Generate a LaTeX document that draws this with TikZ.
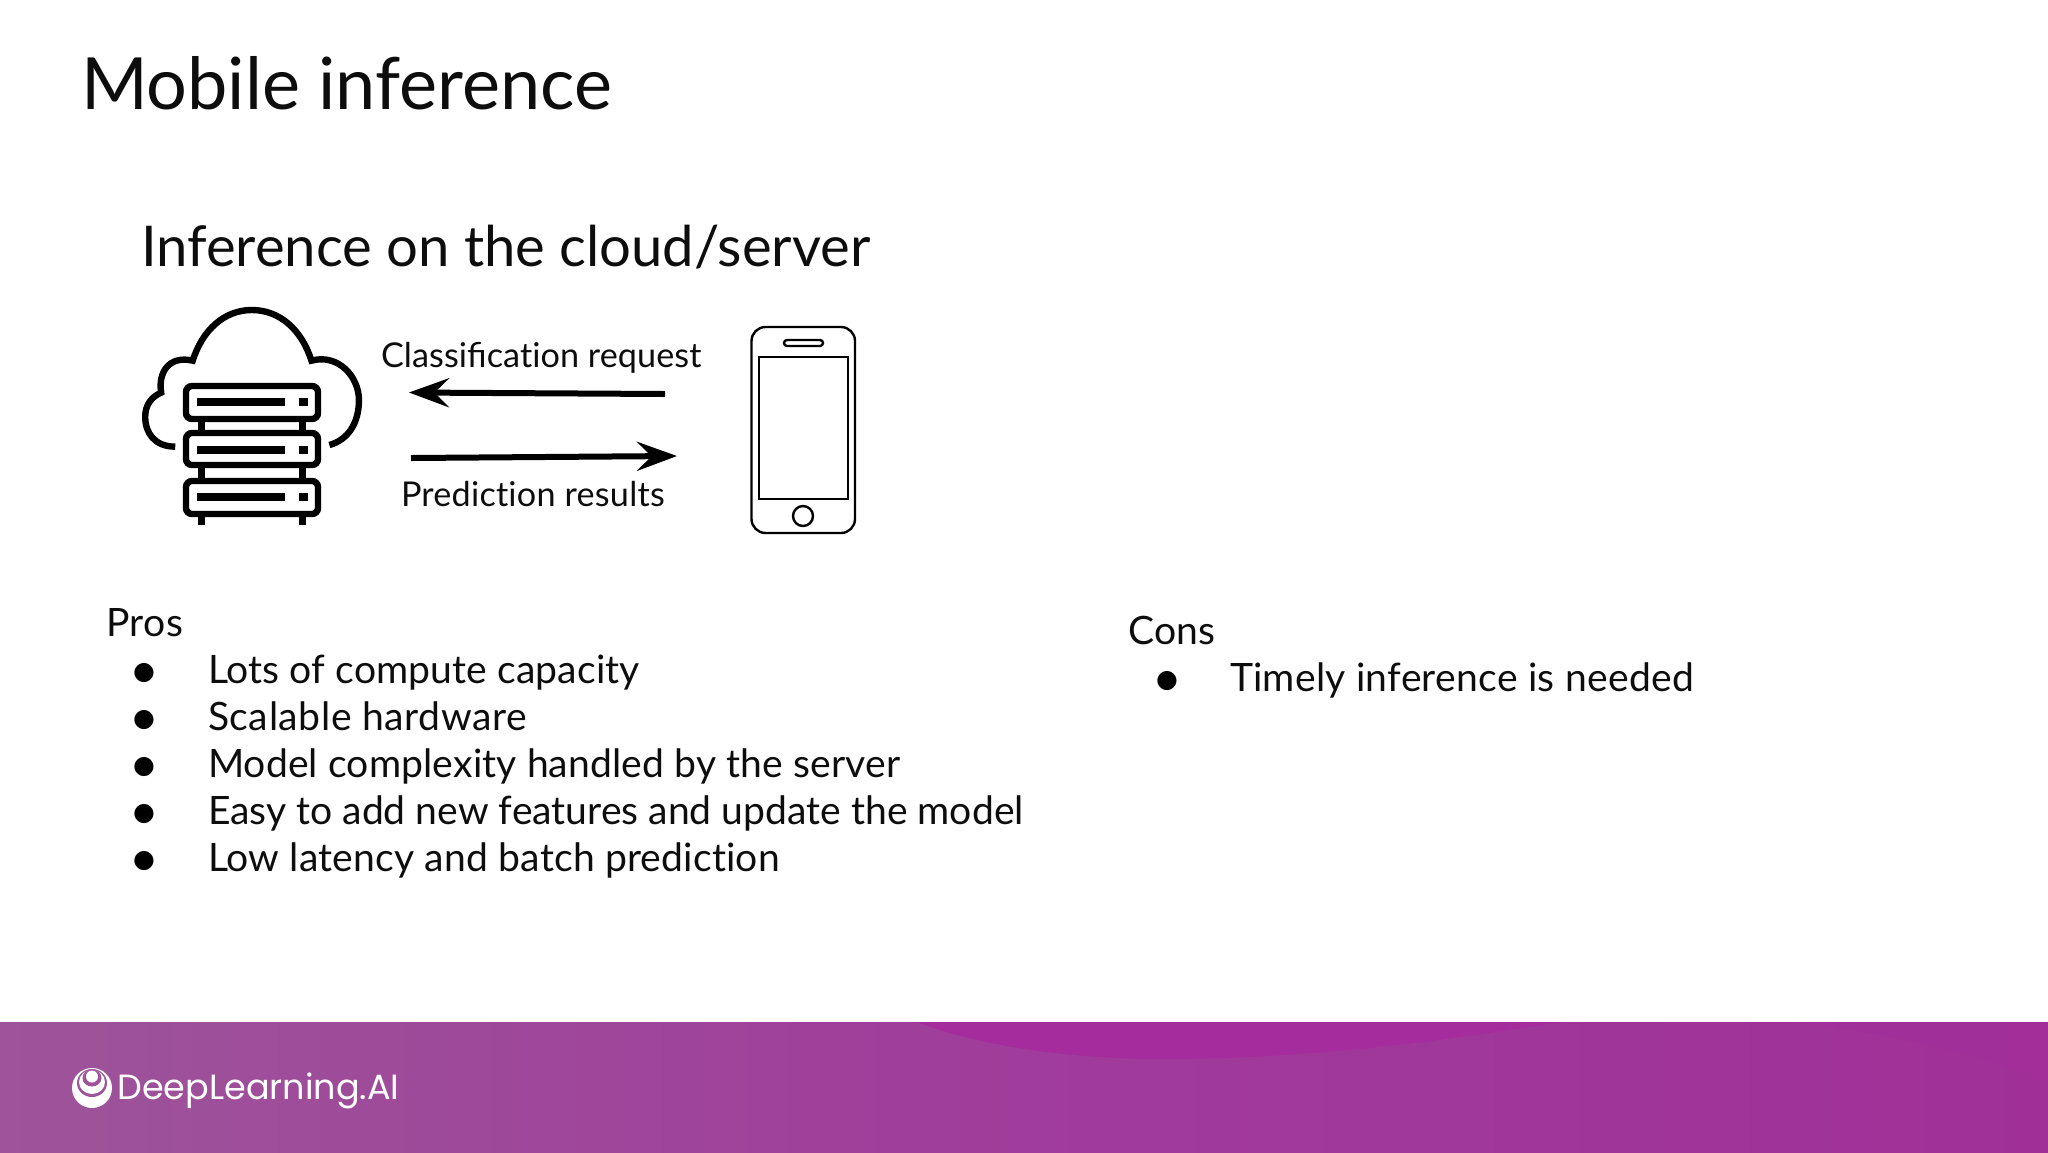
\documentclass[tikz,border=0pt]{standalone}
\usepackage{fontspec}
\setmainfont{Lato}
\newfontfamily\logofont{Poppins}
\newfontfamily\bulletfont{DejaVu Sans}
\newcommand\tiN{t\kern0pt i}
\newcommand\ls[1]{\addfontfeature{LetterSpace=#1}}
\usetikzlibrary{arrows.meta}
\definecolor{bandL}{RGB}{157,84,154}
\definecolor{bandM}{RGB}{160,60,155}
\definecolor{bandR}{RGB}{160,48,152}
\definecolor{blob}{RGB}{165,44,157}
\tikzset{
  txt/.style={anchor=base west,inner sep=0pt,outer sep=0pt,text=black!95},
  titletxt/.style={txt,font=\fontsize{36}{40}\selectfont},
  subtxt/.style={txt,font=\fontsize{28.1}{32}\selectfont},
  bodytxt/.style={txt,font=\fontsize{19.55}{24}\selectfont},
  labeltxt/.style={txt,font=\fontsize{17.1}{20}\selectfont},
  bullettxt/.style={anchor=base,inner sep=0pt,outer sep=0pt,font=\bulletfont\fontsize{12.5}{20}\selectfont},
  icon/.style={draw=black,line width=3.2pt,line join=miter},
  flow/.style={line width=3pt,-{Stealth[length=20pt,width=14.5pt,inset=7.3pt]}},
  phone/.style={draw=black,line width=1.2pt},
}
\begin{document}
\begin{tikzpicture}[x=0.5pt,y=-0.5pt]
\useasboundingbox (0,0) rectangle (2048,1152);
% banner
\shade[left color=bandL,right color=bandR,middle color=bandM] (0,1022) rectangle (2048,1152);
\fill[blob] (917,1022) .. controls (990,1050) and (1090,1060) .. (1174,1059) .. controls (1320,1058) and (1450,1040) .. (1560,1022) -- cycle;
\fill[blob,opacity=.35] (1795,1022) .. controls (1900,1035) and (2000,1060) .. (2048,1085) -- (2048,1022) -- cycle;
\fill[white] (92,1088) circle[radius=20];
\fill[bandL] (92,1083) ellipse[x radius=15,y radius=14];
\fill[white] (92,1082) ellipse[x radius=13,y radius=12];
\fill[bandL] (92,1078) ellipse[x radius=9.5,y radius=8.5];
\fill[white] (92,1076.5) circle[radius=6];
\node[txt,text=white,font=\logofont\fontsize{17.5}{22}\selectfont] (logo) at (117.5,1099) {DeepLearning.AI};
% titles
\node[titletxt] (title) at (81,109) {Mobile inference};
\node[subtxt] (sub) at (141,266) {Inference on the cloud/server};
% server and cloud
\begin{scope}[shift={(120,290)},xscale=.4847,yscale=.3333]
\draw[icon] (114,470) .. controls (72,470) and (52,430) .. (52,380) .. controls (52,345) and (65,320) .. (85,308) .. controls (78,250) and (100,195) .. (150,212) .. controls (170,120) and (215,60) .. (272,60) .. controls (330,60) and (375,120) .. (395,212) .. controls (450,190) and (493,260) .. (493,330) .. controls (493,400) and (470,450) .. (432,465);
\end{scope}
\foreach \t/\b in {386/419,433/465,481/514}{
  \draw[icon,fill=white,rounded corners=3pt] (186,\t) rectangle (318,\b);
}
\foreach \c in {402,449.5,497}{
  \fill (197,\c-4) rectangle (285,\c+4);
  \fill (299,\c-4) rectangle (308,\c+4);
}
\foreach \x in {197.5,299}{
  \fill (\x,422) rectangle (\x+7,430);
  \fill (\x,468) rectangle (\x+7,478);
  \fill (\x,517) rectangle (\x+7,525);
}
% phone
\draw[phone,rounded corners=7pt] (751.5,327) rectangle (855,533);
\draw[phone] (759,357) rectangle (848,499);
\draw[phone,rounded corners=1.5pt] (784,340) rectangle (823,346);
\draw[phone] (803,516) circle[radius=10];
% arrows
\coordinate (reqA) at (665,394);
\coordinate (reqB) at (409,392.5);
\coordinate (resA) at (411,458);
\coordinate (resB) at (677,456);
\draw[flow] (reqA) -- (reqB);
\draw[flow] (resA) -- (resB);
\node[labeltxt] (req) at (381,367) {\ls{0.2}Classifica\tiN on request};
\node[labeltxt] (res) at (401,506) {\ls{0.7}Predic\tiN on results};
% pros
\node[bodytxt] (pros) at (106,636) {\ls{1.2}Pros};
\foreach \i/\txt in {0/{\ls{0.3}Lots of compute capacity},1/{\ls{1.5}Scalable hardware},2/{\ls{0.35}Model complexity handled by the server},3/Easy to add new features and update the model,4/{\ls{0.5}Low latency and batch predic\tiN on}}{
  \node[bullettxt] (pb\i) at (144,679+47*\i) {●};
  \node[bodytxt] (pt\i) at (208,683+47*\i) {\txt};
}
% cons
\node[bodytxt] (cons) at (1128,644) {\ls{1.0}Cons};
\node[bullettxt] (cb) at (1167,687) {●};
\node[bodytxt] (ct) at (1230,691) {\ls{0.7}Timely inference is needed};
\end{tikzpicture}
\end{document}
